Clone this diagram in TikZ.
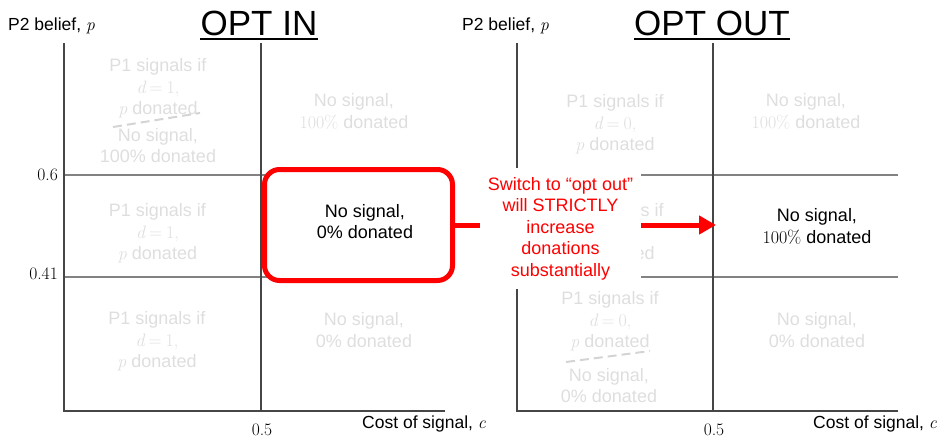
\documentclass[tikz,border=0pt]{standalone}
\usepackage{fontspec}
\setmainfont{Liberation Sans}
\newfontfamily\lmr{Latin Modern Roman}
\newcommand{\vi}[1]{{\lmr\itshape #1}}
\newcommand{\eqd}[1]{\vi{d}\kern4pt{\lmr=}\kern4pt{\lmr #1,}}
\usetikzlibrary{arrows.meta}
\definecolor{faint}{RGB}{222,222,222}
\definecolor{dashc}{RGB}{212,212,212}
\definecolor{axisc}{RGB}{70,70,70}
\definecolor{gridc}{RGB}{130,130,130}
\definecolor{hotred}{RGB}{255,0,0}
\begin{document}
\begin{tikzpicture}[x=1pt,y=-1pt,
  axisline/.style={draw=axisc,line width=1.1pt},
  gridline/.style={draw=gridc,line width=1.1pt},
  cell/.style={align=center,text=faint,inner sep=0pt,font=\fontsize{18}{21.5}\selectfont},
  keycell/.style={align=center,text=black,inner sep=0pt,font=\fontsize{18}{21.5}\selectfont},
  dashline/.style={draw=dashc,line width=2pt,dash pattern=on 9pt off 5pt},
  axlabel/.style={inner sep=0pt,font=\fontsize{17.5}{21}\selectfont},
  ticklabel/.style={inner sep=0pt,font=\fontsize{17.5}{21}\selectfont\lmr},
  title/.style={inner sep=0pt,font=\fontsize{35}{40}\selectfont},
  redbox/.style={draw=hotred,line width=5pt,rounded corners=15pt,fill=white,inner sep=0pt,minimum width=188pt,minimum height=111pt},
  note/.style={fill=white,text=hotred,align=center,inner sep=0pt,minimum width=161pt,minimum height=121pt,font=\fontsize{18}{21.5}\selectfont},
  redline/.style={draw=hotred,line width=5pt}
]
\useasboundingbox (0,0) rectangle (944,437);

% ---------- left panel (OPT IN) ----------
\draw[gridline] (64,175) -- (445,175);
\draw[gridline] (64,277) -- (445,277);
\draw[axisline] (261,43) -- (261,411);
\draw[axisline] (64,43) -- (64,411) -- (445,411);

\node[title,anchor=base] (t1) at (259,35) {OPT IN};
\draw[line width=1.5pt] ([yshift=-4pt]t1.base west) -- ([yshift=-4pt]t1.base east);
\node[axlabel,anchor=base west] (yl1) at (8,30) {P2 belief, \vi{p}};
\node[axlabel,anchor=base west] (xl1) at (362,428) {Cost of signal, \vi{c}};
\node[ticklabel,anchor=base east] (y06) at (58,180) {0.6};
\node[ticklabel,anchor=base east] (y041) at (58,279) {0.41};
\node[ticklabel,anchor=base] (x05a) at (262,435) {0.5};

\node[cell] (a1) at (158,88.5) {P1 signals if\\\eqd{1}\\\vi{p} donated};
\draw[dashline] (113,127) -- (200,113);
\node[cell] (a2) at (158,145.5) {No signal,\\100\% donated};
\node[cell] (a3) at (354,111.5) {No signal,\\{\lmr 100\%} donated};
\node[cell] (a4) at (157.5,233.5) {P1 signals if\\\eqd{1}\\\vi{p} donated};
\node[cell] (a5) at (157,341.5) {P1 signals if\\\eqd{1}\\\vi{p} donated};
\node[cell] (a6) at (364,330) {No signal,\\0\% donated};

% ---------- right panel (OPT OUT) ----------
\draw[gridline] (517,175) -- (898,175);
\draw[gridline] (517,277) -- (898,277);
\draw[axisline] (713,43) -- (713,411);
\draw[axisline] (517,43) -- (517,411) -- (898,411);

\node[title,anchor=base] (t2) at (712,35) {OPT OUT};
\draw[line width=1.5pt] ([yshift=-4pt]t2.base west) -- ([yshift=-4pt]t2.base east);
\node[axlabel,anchor=base west] (yl2) at (462,30) {P2 belief, \vi{p}};
\node[axlabel,anchor=base west] (xl2) at (813,428) {Cost of signal, \vi{c}};
\node[ticklabel,anchor=base] (x05b) at (714,435) {0.5};

\node[cell] (b1) at (615,124.5) {P1 signals if\\\eqd{0}\\\vi{p} donated};
\node[cell] (b2) at (806,111.5) {No signal,\\{\lmr 100\%} donated};
\node[cell] (b3) at (615,233.5) {P1 signals if\\\eqd{0}\\\vi{p} donated};
\node[cell] (b4) at (610,321.5) {P1 signals if\\\eqd{0}\\\vi{p} donated};
\draw[dashline] (566,362) -- (650,351);
\node[cell] (b5) at (609,385.5) {No signal,\\0\% donated};
\node[cell] (b6) at (817,330) {No signal,\\0\% donated};

% ---------- highlight ----------
\node[note] (lbl) at (560.5,228.5) {Switch to “opt out”\\will STRICTLY\\increase\\donations\\substantially};
\node[redbox] (rb) at (358.5,225) {};
\node[keycell] (k1) at (365,221.5) {No signal,\\0\% donated};
\node[keycell] (k2) at (817,226.5) {No signal,\\{\lmr 100\%} donated};
\coordinate (tip) at (716,225);

\draw[redline] (rb.east) -- (rb.east -| lbl.west);
\draw[redline,-{Triangle[length=17pt,width=18pt]}] (lbl.east |- rb.east) -- (tip);
\end{tikzpicture}
\end{document}
